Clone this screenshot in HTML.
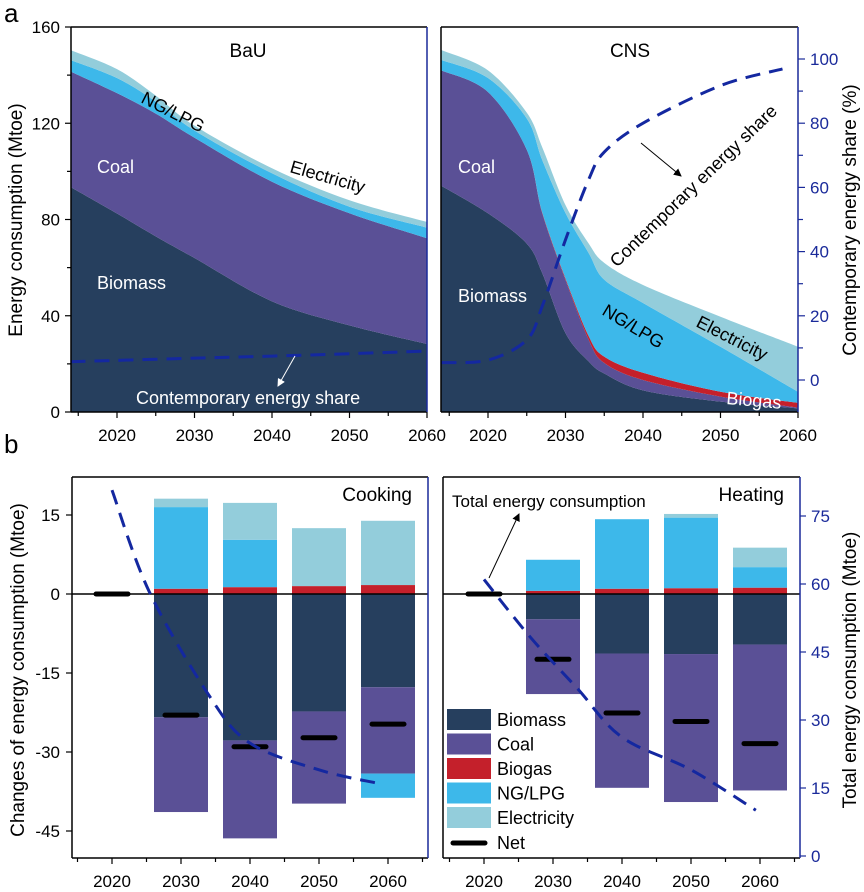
<!DOCTYPE html>
<html><head><meta charset="utf-8"><style>
body{margin:0;background:#fff}
svg{display:block;font-family:"Liberation Sans",sans-serif}
</style></head><body>
<svg id="c" width="864" height="892" viewBox="0 0 864 892">
<defs><marker id="ah" markerWidth="8" markerHeight="8" refX="7" refY="4" orient="auto"><path d="M0,0 L8,4 L0,8 z" fill="#000"/></marker>
<marker id="ahw" markerWidth="8" markerHeight="8" refX="7" refY="4" orient="auto"><path d="M0,0 L8,4 L0,8 z" fill="#fff"/></marker></defs>
</svg>
<script>
// ---- data: panel a ----
const bauYears=[2014,2020,2025,2030,2040,2050,2060];
const bauBiomass=[93.5,82.5,73,64,46,36,28.3];
const bauCoal=[48,50,51,50,49.7,46.6,43.9];
const bauBiogas=[0,0,0,0,0,0,0];
const bauNG=[4.8,6.3,5,3,3.5,2.7,4.4];
const bauElec=[4.1,3.7,2.5,2,2.1,2.7,2.4];
const bauShareYears=[2014,2030,2045,2060];
const bauShare=[5.7,6.8,7.8,9];
const cnsYears=[2014,2020,2025,2027,2030,2033,2035,2040,2050,2060];
const cnsBiomass=[94,82.6,70,57.7,32.8,21,16,9,4.3,1.5];
const cnsCoal=[47.9,50.4,39,24.9,22.1,9,4.4,4.3,2.1,0.3];
const cnsBiogas=[0,0,0,0.3,0.6,1.5,2.6,3,2,2];
const cnsNG=[4.4,5.8,13,21.8,27.2,34.5,32,29,18.7,4.6];
const cnsElec=[4.1,3.2,2.4,5.3,3.3,4,7,7.5,12.5,18.7];
const cnsShareYears=[2014,2020,2025,2027,2030,2033,2035,2040,2050,2058];
const cnsShare=[5.4,6.2,12.5,23,43.7,62.5,71,80,91.7,96.9];
const topYTicks=[0,40,80,120,160];
const shareTicks=[0,20,40,60,80,100];
const xTicks=[2020,2030,2040,2050,2060];
// ---- data: panel b ----
const barYears=[2030,2040,2050,2060];
const netYears=[2020,2030,2040,2050,2060];
const cookBiomass=[-23.4,-27.8,-22.3,-17.7];
const cookCoal=[-18,-18.6,-17.5,-16.4];
const cookNGneg=[0,0,0,-4.6];
const cookBiogas=[1,1.3,1.5,1.7];
const cookNG=[15.5,9,0,0];
const cookElec=[1.6,7,11,12.2];
const cookNet=[0,-23,-29,-27.3,-24.7];
const cookTotYears=[2020,2025.4,2034.2,2040,2050,2058.3];
const cookTot=[80.7,58.3,35.1,24.9,19,16.1];
const heatBiomass=[-4.8,-11.3,-11.4,-9.6];
const heatCoal=[-14.2,-25.5,-28.1,-27.7];
const heatNGneg=[0,0,0,0];
const heatBiogas=[0.6,1,1.1,1.2];
const heatNG=[5.9,13.2,13.4,3.9];
const heatElec=[0,0,0.7,3.7];
const heatNet=[0,-12.4,-22.6,-24.2,-28.4];
const heatTotYears=[2020,2026.7,2033.5,2040,2050,2059.4];
const heatTot=[61,48.3,37,26.2,19,10.1];
const bTicks=[15,0,-15,-30,-45];
const rTicks=[0,15,30,45,60,75];

const C={biomass:'#263f5e',coal:'#5a5096',biogas:'#c4202b',ng:'#3db8ea',elec:'#93cddb',line:'#1428a0',ax:'#1a2a9a'};
const svg=document.getElementById('c');
const NS='http://www.w3.org/2000/svg';
function el(tag,attrs,parent){const e=document.createElementNS(NS,tag);for(const k in attrs)e.setAttribute(k,attrs[k]);(parent||svg).appendChild(e);return e;}
function txt(s,attrs){const e=el('text',attrs);e.textContent=s;return e;}
// smooth path segments (Catmull-Rom), without leading M
function smoothSeg(pts){
  let d='';
  for(let i=0;i<pts.length-1;i++){
    const p0=pts[Math.max(0,i-1)],p1=pts[i],p2=pts[i+1],p3=pts[Math.min(pts.length-1,i+2)];
    const t=0.5/3;
    const c1=[p1[0]+(p2[0]-p0[0])*t,p1[1]+(p2[1]-p0[1])*t];
    const c2=[p2[0]-(p3[0]-p1[0])*t,p2[1]-(p3[1]-p1[1])*t];
    d+=' C'+c1[0]+','+c1[1]+' '+c2[0]+','+c2[1]+' '+p2[0]+','+p2[1];
  }
  return d;
}

const yT=v=>412-v*385/160;
const yS=s=>380-s*3.21;
const xT=(yr,l)=>l+(yr-2014)*7.75;
const yB=v=>594-v*79/15;
const yR=v=>856-v*68/15;
const xB=(yr,x0)=>x0+(yr-2020)*6.9;

function stackArea(years,series,colors,names,left){
  let base=years.map(()=>0);
  series.forEach((s,i)=>{
    const top=base.map((b,j)=>b+s[j]);
    const tp=years.map((y,j)=>[xT(y,left),yT(top[j])]);
    const bp=years.map((y,j)=>[xT(y,left),yT(base[j])]).reverse();
    let d='M'+tp[0][0]+','+tp[0][1]+smoothSeg(tp)+' L'+bp[0][0]+','+bp[0][1]+smoothSeg(bp)+'Z';
    const p=el('path',{d:d,fill:colors[i]});
    
    
    base=top;
  });
}
function dashLine(xs,ys,name){
  const pts=xs.map((x,i)=>[x,ys[i]]);
  const p=el('path',{d:'M'+pts[0][0]+','+pts[0][1]+smoothSeg(pts),fill:'none',stroke:C.line,'stroke-width':3,'stroke-dasharray':'15 9'});
  
  
}
function frame(l,r,t,b,name){
  const g=el('g',{});
  
  
  el('line',{x1:l,y1:t,x2:r,y2:t,stroke:'#000','stroke-width':1.5},g);
  el('line',{x1:l,y1:t,x2:l,y2:b,stroke:'#000','stroke-width':1.5},g);
  el('line',{x1:l,y1:b,x2:r,y2:b,stroke:'#000','stroke-width':1.5},g);
  el('line',{x1:r,y1:t,x2:r,y2:b,stroke:C.ax,'stroke-width':1.5},g);
}

// ---------- panel a ----------
const L1=70.5,L2=441.5;
stackArea(bauYears,[bauBiomass,bauCoal,bauBiogas,bauNG,bauElec],[C.biomass,C.coal,C.biogas,C.ng,C.elec],['bau-biomass-area','bau-coal-area','bau-biogas-area','bau-ng-area','bau-elec-area'],L1);
stackArea(cnsYears,[cnsBiomass,cnsCoal,cnsBiogas,cnsNG,cnsElec],[C.biomass,C.coal,C.biogas,C.ng,C.elec],['cns-biomass-area','cns-coal-area','cns-biogas-area','cns-ng-area','cns-elec-area'],L2);
dashLine(bauShareYears.map(y=>xT(y,L1)),bauShare.map(yS),'bau-share-line');
dashLine(cnsShareYears.map(y=>xT(y,L2)),cnsShare.map(yS),'cns-share-line');
frame(71,427,27,412,'bau-frame');
frame(441,798,27,412,'cns-frame');
[[L1,'bau'],[L2,'cns']].forEach(([l,n])=>{
  for(let yr=2015;yr<=2060;yr+=5){
    const x=xT(yr,l),maj=yr%10==0;
    el('line',{x1:x,y1:412,x2:x,y2:412+(maj?6:4),stroke:'#000','stroke-width':1.2});
    if(maj){const t=txt(String(yr),{x:x,y:441,'text-anchor':'middle','font-size':17});
      }
  }
});
for(let v=0;v<=160;v+=20){const y=yT(v);el('line',{x1:71,y1:y,x2:v%40==0?65:67,y2:y,stroke:'#000','stroke-width':1.2});}
topYTicks.forEach(v=>{const t=txt(String(v),{x:60,y:yT(v)+6,'text-anchor':'end','font-size':17});
  });
for(let s=-10;s<=110;s+=10){const y=yS(s);if(y<27||y>412)continue;el('line',{x1:798,y1:y,x2:s%20==0?805:803,y2:y,stroke:C.ax,'stroke-width':1.2});}
shareTicks.forEach(v=>{const t=txt(String(v),{x:810,y:yS(v)+6,'font-size':17,fill:C.ax});
  });
function label(s,x,y,opt,name){const a=Object.assign({x:x,y:y,'font-size':18},opt||{});const t=txt(s,a);return t;}
label('a',4,22,{'font-size':26},'panel-a-label');
label('BaU',248,57,{'text-anchor':'middle','font-size':19},'bau-title');
label('CNS',630,57,{'text-anchor':'middle','font-size':19},'cns-title');
label('Coal',97,173,{fill:'#fff'},'bau-coal-label');
label('Biomass',97,289,{fill:'#fff'},'bau-biomass-label');
label('NG/LPG',140,102,{transform:'rotate(27 140 102)'},'bau-ng-label');
label('Electricity',289,172,{transform:'rotate(16 289 172)'},'bau-elec-label');
label('Contemporary energy share',136,404,{fill:'#fff'},'bau-share-label');
el('line',{x1:295,y1:356,x2:278,y2:386,stroke:'#fff','stroke-width':1,'marker-end':'url(#ahw)'});
label('Coal',458,173,{fill:'#fff'},'cns-coal-label');
label('Biomass',458,302,{fill:'#fff'},'cns-biomass-label');
label('NG/LPG',601,314,{transform:'rotate(31 601 314)'},'cns-ng-label');
label('Electricity',695,326,{transform:'rotate(27 695 326)'},'cns-elec-label');
label('Biogas',726,404,{fill:'#fff',transform:'rotate(5 726 404)'},'cns-biogas-label');
label('Contemporary energy share',617,268,{transform:'rotate(-44 617 268)'},'cns-share-label');
el('line',{x1:641,y1:143,x2:681,y2:176,stroke:'#000','stroke-width':1,'marker-end':'url(#ah)'});
label('Energy consumption (Mtoe)',22,220,{'text-anchor':'middle','font-size':19,transform:'rotate(-90 22 220)'},'top-y-axis-title');
label('Contemporary energy share (%)',856,220,{'text-anchor':'middle','font-size':19,transform:'rotate(-90 856 220)'},'share-axis-title');

// ---------- panel b ----------
function bars(x0,prefix,bio,coal,ngneg,biogas,ng,elec){
  barYears.forEach((yr,i)=>{
    const x=xB(yr,x0)-27;
    let neg=0;
    [[bio[i],C.biomass,'biomass'],[coal[i],C.coal,'coal'],[ngneg[i],C.ng,'ng-neg']].forEach(([v,c,n])=>{
      if(!v)return;const r=el('rect',{x:x,y:yB(neg),width:54,height:yB(neg+v)-yB(neg),fill:c});
      neg+=v;});
    let pos=0;
    [[biogas[i],C.biogas,'biogas'],[ng[i],C.ng,'ng'],[elec[i],C.elec,'elec']].forEach(([v,c,n])=>{
      if(!v)return;const r=el('rect',{x:x,y:yB(pos+v),width:54,height:yB(pos)-yB(pos+v),fill:c});
      pos+=v;});
  });
}
function nets(x0,prefix,net){
  netYears.forEach((yr,i)=>{const x=xB(yr,x0);
    const l=el('line',{x1:x-16,y1:yB(net[i]),x2:x+16,y2:yB(net[i]),stroke:'#000','stroke-width':5,'stroke-linecap':'round'});
    });
}
const X1=112,X2=484;
bars(X1,'cook',cookBiomass,cookCoal,cookNGneg,cookBiogas,cookNG,cookElec);
bars(X2,'heat',heatBiomass,heatCoal,heatNGneg,heatBiogas,heatNG,heatElec);
el('line',{x1:72,y1:594,x2:428,y2:594,stroke:'#000','stroke-width':1.5});
el('line',{x1:443,y1:594,x2:800,y2:594,stroke:'#000','stroke-width':1.5});
nets(X1,'cook',cookNet);
nets(X2,'heat',heatNet);
dashLine(cookTotYears.map(y=>xB(y,X1)),cookTot.map(yR),'cook-total-line');
dashLine(heatTotYears.map(y=>xB(y,X2)),heatTot.map(yR),'heat-total-line');
frame(72,428,477,858,'cooking-frame');
frame(443,800,477,858,'heating-frame');
[[X1,'cook'],[X2,'heat']].forEach(([x0,n])=>{
  for(let yr=2015;yr<=2065;yr+=5){const x=xB(yr,x0);const maj=yr%10==0;
    el('line',{x1:x,y1:858,x2:x,y2:858+(maj?6:4),stroke:'#000','stroke-width':1.2});
    if(maj&&yr<=2060){const t=txt(String(yr),{x:x,y:887,'text-anchor':'middle','font-size':17});
      }}
});
bTicks.forEach(v=>{const y=yB(v);el('line',{x1:72,y1:y,x2:66,y2:y,stroke:'#000','stroke-width':1.2});
  const t=txt(String(v),{x:60,y:y+6,'text-anchor':'end','font-size':17});
  });
rTicks.forEach(v=>{const y=yR(v);el('line',{x1:800,y1:y,x2:806,y2:y,stroke:C.ax,'stroke-width':1.2});
  const t=txt(String(v),{x:811,y:y+6,'font-size':17,fill:C.ax});
  });
label('b',4,453,{'font-size':26},'panel-b-label');
label('Cooking',412,501,{'text-anchor':'end','font-size':19},'cooking-title');
label('Heating',784,501,{'text-anchor':'end','font-size':19},'heating-title');
label('Total energy consumption',452,507,{'font-size':17},'total-energy-label');
el('line',{x1:489,y1:578,x2:519,y2:514,stroke:'#000','stroke-width':1,'marker-end':'url(#ah)'});
label('Changes of energy consumption (Mtoe)',24,670,{'text-anchor':'middle','font-size':19,transform:'rotate(-90 24 670)'},'b-y-axis-title');
label('Total energy consumption (Mtoe)',856,670,{'text-anchor':'middle','font-size':19,transform:'rotate(-90 856 670)'},'total-axis-title');
const legNames=['Biomass','Coal','Biogas','NG/LPG','Electricity'];
const legCols=[C.biomass,C.coal,C.biogas,C.ng,C.elec];
legNames.forEach((n,i)=>{const y=709+i*24.5;
  const r=el('rect',{x:447,y:y,width:44,height:21,fill:legCols[i]});
  
  label(n,497,y+17,{'font-size':18},'legend-entry-'+i);});
el('line',{x1:453,y1:843,x2:485,y2:843,stroke:'#000','stroke-width':5,'stroke-linecap':'round'});
label('Net',497,849,{'font-size':18},'legend-entry-net');
</script>
</body></html>
